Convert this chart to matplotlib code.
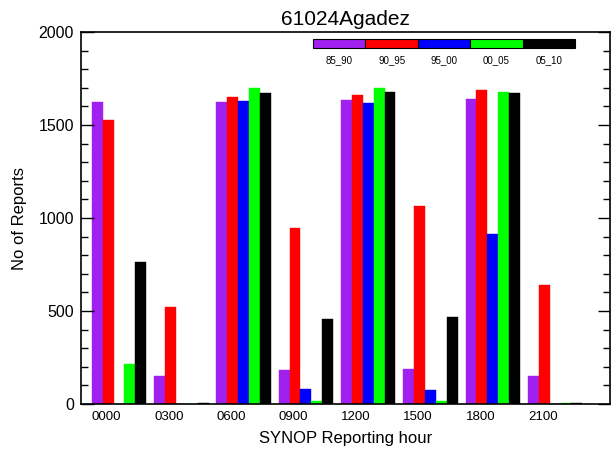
import numpy as np
import matplotlib
matplotlib.use("Agg")
import matplotlib.pyplot as plt
from matplotlib.patches import Rectangle
from matplotlib.ticker import MultipleLocator

plt.rcParams["font.family"] = ["Liberation Sans", "DejaVu Sans"]

# ── data ─────────────────────────────────────────────
hours   = ["0000", "0300", "0600", "0900", "1200", "1500", "1800", "2100"]
periods = ["85_90", "90_95", "95_00", "00_05", "05_10"]
colors  = ["#A020F0", "#FF0000", "#0000FF", "#00FF00", "#000000"]

p85_90 = [1622, 148, 1622, 183, 1636, 188, 1640, 150]
p90_95 = [1525, 520, 1650, 946, 1661, 1064, 1686, 640]
p95_00 = [2, 2, 1629, 81, 1620, 75, 914, 2]
p00_05 = [214, 2, 1697, 16, 1700, 16, 1676, 3]
p05_10 = [764, 6, 1672, 457, 1679, 468, 1674, 3]
series = [p85_90, p90_95, p95_00, p00_05, p05_10]

# ── layout (group units) ─────────────────────────────
bar_w   = 0.175
g_start = 0.172
lab_off = 0.412

fig = plt.figure(figsize=(6.11, 4.61), dpi=100)
ax = fig.add_axes([81 / 611, 1 - 404 / 461, 529 / 611, 372 / 461])

x = np.arange(len(hours))
for j, (vals, c) in enumerate(zip(series, colors)):
    ax.bar(x + g_start + j * bar_w, vals, bar_w, align="edge", color=c,
           edgecolor=c, linewidth=0.3)

ax.set_xlim(0, 529 / 62.3)
ax.set_ylim(0, 2000)
ax.set_xticks(x + lab_off)
ax.set_xticklabels(hours, fontsize=9.5)
ax.tick_params(axis="x", length=0, pad=5)
ax.yaxis.set_major_locator(MultipleLocator(500))
ax.yaxis.set_minor_locator(MultipleLocator(100))
ax.tick_params(axis="y", which="major", direction="in", length=9, width=1,
               right=True, labelsize=11.5, pad=5)
ax.tick_params(axis="y", which="minor", direction="in", length=5, width=1,
               right=True)
for s in ax.spines.values():
    s.set_linewidth(1.2)

ax.set_title("61024Agadez", fontsize=15, pad=5)
ax.set_xlabel("SYNOP Reporting hour", fontsize=12, labelpad=6)
ax.set_ylabel("No of Reports", fontsize=12, labelpad=8)

# ── colour-bar legend ────────────────────────────────
lx0, ly0, seg_w, seg_h = 313, 39, 52.4, 9
for j, (lab, c) in enumerate(zip(periods, colors)):
    fx = (lx0 + j * seg_w) / 611
    fig.add_artist(Rectangle((fx, 1 - (ly0 + seg_h) / 461), seg_w / 611,
                             seg_h / 461, transform=fig.transFigure,
                             facecolor=c, edgecolor="black", linewidth=0.8))
    fig.text(fx + seg_w / 2 / 611, 1 - 60 / 461, lab, fontsize=7,
             ha="center", va="center")

fig.savefig("out.png", dpi=100)
